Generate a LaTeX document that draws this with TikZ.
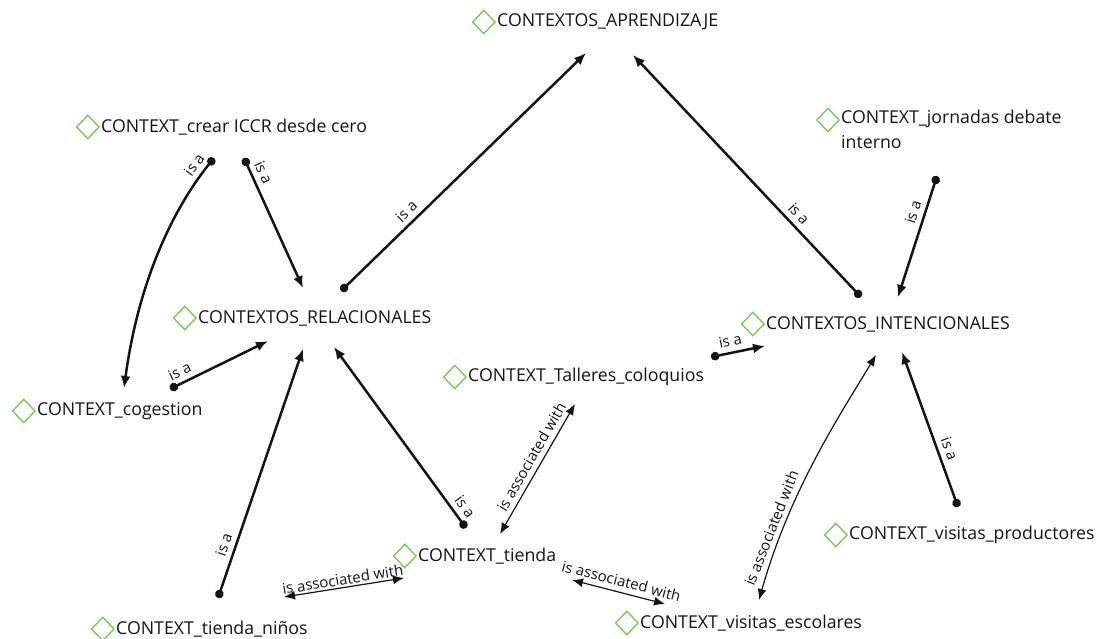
\documentclass[tikz,border=0pt]{standalone}
\usepackage{fontspec}
\setmainfont{Open Sans}
\usetikzlibrary{arrows.meta,shapes.geometric}
\pgfdeclarelayer{edges}
\pgfsetlayers{edges,main}
\definecolor{icongreen}{HTML}{7CC95E}
\definecolor{inkgray}{HTML}{141414}
\begin{document}
\begin{tikzpicture}[x=1bp,y=-1bp,
  icon/.style={diamond, draw=icongreen, fill=white, line width=1.4bp,
    minimum width=23bp, minimum height=24bp, inner sep=0pt},
  concept/.style={anchor=west, inner sep=0pt, text=inkgray,
    font=\fontsize{17.8}{25}\selectfont,
    label={[icon, label distance=1bp]left:{}}},
  isa/.style={line width=2.5bp, draw=inkgray,
    {Circle[length=8.5bp]}-{Latex[length=12bp,width=10bp]}},
  assoc/.style={line width=1.2bp, draw=inkgray,
    {Latex[length=11bp,width=9bp]}-{Latex[length=11bp,width=9bp]}},
  lbl/.style={font=\fontsize{15}{16}\selectfont, sloped, above,
    inner sep=5bp, text=inkgray}]

\useasboundingbox (0,0) rectangle (1097,639);

% concepts
\node[concept] (apr) at (497,22)  {CONTEXTOS\_APRENDIZAJE};
\node[concept] (cre) at (101,127) {CONTEXT\_crear ICCR desde cero};
\node[anchor=north west, inner sep=0pt, text=inkgray, align=left,
      font=\fontsize{17.8}{25}\selectfont] (jor) at (841,110)
      {CONTEXT\_jornadas debate\\interno};
\node[icon] (joricon) at ([shift={(-13,10)}]jor.north west) {};
\node[concept] (rel) at (198,318) {CONTEXTOS\_RELACIONALES};
\node[concept] (cog) at (37,411)  {CONTEXT\_cogestion};
\node[concept] (tal) at (468,377) {CONTEXT\_Talleres\_coloquios};
\node[concept] (int) at (766,324) {CONTEXTOS\_INTENCIONALES};
\node[concept] (tie) at (418,556) {CONTEXT\_tienda};
\node[concept] (pro) at (849,535) {CONTEXT\_visitas\_productores};
\node[concept] (nin) at (116,629) {CONTEXT\_tienda\_niños};
\node[concept] (esc) at (640,623) {CONTEXT\_visitas\_escolares};

% links
\begin{pgfonlayer}{edges}
\draw[isa] ([shift={(143,-27)}]rel.west) -- node[lbl,pos=0.3]{is a} ([shift={(89,31)}]apr.west);
\draw[isa] ([shift={(95,-27)}]int.west) -- node[lbl,pos=0.31]{is a} ([shift={(136,33)}]apr.west);
\draw[isa] ([shift={(113,31)}]cre.west) .. controls ([shift={(79,73)}]cre.west) and ([shift={(103,-141)}]cog.west) .. ([shift={(87,-23)}]cog.west) node[lbl,pos=0.1]{is a};
\draw[isa] ([shift={(143,31)}]cre.west) -- node[lbl,pos=0.15]{is a} ([shift={(105,-30)}]rel.west);
\draw[isa] ([shift={(133,-22)}]cog.west) -- node[lbl,pos=0.15]{is a} ([shift={(70,23)}]rel.west);
\draw[isa] ([shift={(102,-31)}]nin.west) -- node[lbl,pos=0.2]{is a} ([shift={(105,31)}]rel.west);
\draw[isa] ([shift={(48,-28)}]tie.west) -- node[lbl,pos=0.08]{is a} ([shift={(136,29)}]rel.west);
\draw[assoc] ([shift={(107,27)}]tal.west) -- node[lbl,pos=0.45]{is associated with} ([shift={(82,-22)}]tie.west);
\draw[isa] ([shift={(243,-20)}]tal.west) -- node[lbl,pos=0.4]{is a} ([shift={(-1,22)}]int.west);
\draw[isa] ([shift={(96,66)}]jor.north west) -- node[lbl,pos=0.33]{is a} ([shift={(132,-27)}]int.west);
\draw[isa] ([shift={(109,-28)}]pro.west) -- node[lbl,pos=0.35]{is a} ([shift={(136,28)}]int.west);
\draw[assoc] ([shift={(110,31)}]int.west) .. controls ([shift={(74,91)}]int.west) and ([shift={(150,-133)}]esc.west) .. ([shift={(119,-23)}]esc.west) node[lbl,pos=0.78]{is associated with};
\draw[assoc] ([shift={(168,-32)}]nin.west) -- node[lbl,pos=0.5,inner sep=2bp]{is associated with} ([shift={(-14,22)}]tie.west);
\draw[assoc] ([shift={(154,24)}]tie.west) -- node[lbl,pos=0.5]{is associated with} ([shift={(25,-19)}]esc.west);
\end{pgfonlayer}
\end{tikzpicture}
\end{document}
